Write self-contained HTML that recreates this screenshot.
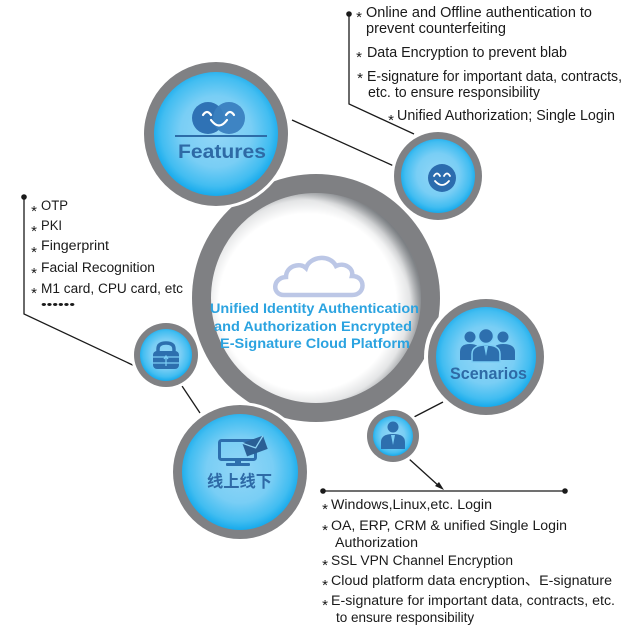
<!DOCTYPE html>
<html><head><meta charset="utf-8"><style>
html,body{margin:0;padding:0;background:#fff;}
svg{display:block;}
.t{font-family:"Liberation Sans","Noto Sans CJK SC",sans-serif;fill:#1a1a1a;}
.st{font-family:"Liberation Sans",sans-serif;fill:#1a1a1a;font-size:15px;}
</style></head><body>
<svg width="625" height="625" viewBox="0 0 625 625" xmlns="http://www.w3.org/2000/svg">
<defs>
<radialGradient id="blue" cx="50%" cy="48%" r="52%">
<stop offset="0" stop-color="#93d6f6"/>
<stop offset="0.55" stop-color="#79cef5"/>
<stop offset="0.85" stop-color="#42bdf1"/>
<stop offset="1" stop-color="#16aaec"/>
</radialGradient>
<radialGradient id="white" cx="46%" cy="52%" r="54%">
<stop offset="0" stop-color="#ffffff"/>
<stop offset="0.78" stop-color="#ffffff"/>
<stop offset="0.9" stop-color="#e4e5e6"/>
<stop offset="1" stop-color="#9a9da0"/>
</radialGradient>
<radialGradient id="dark" cx="35%" cy="65%" r="80%">
<stop offset="0" stop-color="#3a3f45" stop-opacity="0"/>
<stop offset="0.72" stop-color="#3a3f45" stop-opacity="0"/>
<stop offset="0.95" stop-color="#3a3f45" stop-opacity="0.75"/>
</radialGradient>
<clipPath id="inner"><circle cx="316" cy="298" r="105"/></clipPath>
</defs>

<!-- connector lines -->
<g stroke="#1a1a1a" stroke-width="1.3" fill="none">
<polyline points="349,14 349,104 414,134"/>
<line x1="292" y1="120" x2="396" y2="167"/>
<polyline points="24,197 24,314 139,368"/>
<line x1="182" y1="386" x2="200" y2="413"/>
<line x1="443" y1="402" x2="414" y2="417"/>
<line x1="408" y1="458" x2="440" y2="487"/>
<line x1="323" y1="491" x2="565" y2="491"/>
</g>
<polygon points="444,490 435,486 439,482" fill="#1a1a1a"/>
<circle cx="349" cy="14" r="2.8" fill="#1a1a1a"/>
<circle cx="24" cy="197" r="2.8" fill="#1a1a1a"/>
<circle cx="323" cy="491" r="2.8" fill="#1a1a1a"/>
<circle cx="565" cy="491" r="2.8" fill="#1a1a1a"/>

<!-- big central circle -->
<circle cx="316" cy="298" r="124" fill="#7f8083"/>
<circle cx="316" cy="298" r="105" fill="url(#white)"/>
<rect x="200" y="180" width="232" height="232" fill="url(#dark)" clip-path="url(#inner)"/>
<!-- cloud -->
<path d="M284,295 C272,295 272,278 286,277 C286,266 300,262 306,268 C310,256 330,254 336,266 C344,262 354,268 352,276 C366,276 366,295 352,295 Z" fill="none" stroke="#bcc7e6" stroke-width="4.5"/>
<g font-family="Liberation Sans, sans-serif" font-weight="bold" font-size="14" fill="#2ba3e0">
<text x="210" y="313" textLength="209" lengthAdjust="spacingAndGlyphs">Unified Identity Authentication</text>
<text x="214" y="331" textLength="198" lengthAdjust="spacingAndGlyphs">and Authorization Encrypted</text>
<text x="220" y="348" textLength="190" lengthAdjust="spacingAndGlyphs">E-Signature Cloud Platform</text>
</g>

<!-- Features circle -->
<circle cx="216" cy="134" r="75" fill="#fff"/>
<circle cx="216" cy="134" r="72" fill="#808184"/>
<circle cx="216" cy="134" r="62" fill="url(#blue)"/>
<circle cx="208" cy="118" r="16" fill="#2f72b5"/>
<circle cx="229" cy="118" r="16" fill="#3a7fc0" opacity="0.95"/>
<g stroke="#fff" stroke-width="2.2" fill="none" stroke-linecap="round">
<path d="M203,115 Q207,109 211,115"/>
<path d="M226,115 Q230,109 234,115"/>
<path d="M211,120 Q219,131 227,120"/>
</g>
<line x1="175" y1="136" x2="267" y2="136" stroke="#2d6ca8" stroke-width="2"/>
<text x="178" y="158" font-family="Liberation Sans, sans-serif" font-weight="bold" font-size="19" fill="#2e6aa6" textLength="88" lengthAdjust="spacingAndGlyphs">Features</text>

<!-- small smiley circle -->
<circle cx="438" cy="176" r="47" fill="#fff"/>
<circle cx="438" cy="176" r="44" fill="#808184"/>
<circle cx="438" cy="176" r="37" fill="url(#blue)"/>
<circle cx="442" cy="178" r="14" fill="#2b6cae"/>
<g stroke="#fff" stroke-width="1.8" fill="none" stroke-linecap="round">
<path d="M434,176 Q437,171 440,176"/>
<path d="M444,176 Q447,171 450,176"/>
<path d="M435,181 Q442,189 449,181"/>
</g>

<!-- Scenarios circle -->
<circle cx="486" cy="357" r="62" fill="#fff"/>
<circle cx="486" cy="357" r="58" fill="#808184"/>
<circle cx="486" cy="357" r="50" fill="url(#blue)"/>
<g fill="#2d6fae">
<circle cx="470" cy="337" r="5.5"/>
<circle cx="503" cy="337" r="5.5"/>
<path d="M460,360 L460,352 Q460,344 470,344 Q480,344 480,352 L480,360 Z"/>
<path d="M493,360 L493,352 Q493,344 503,344 Q515,344 515,352 L515,360 Z"/>
<circle cx="486" cy="336" r="7.5" stroke="#7bcef5" stroke-width="1.5"/>
<path d="M472,362 L472,354 Q472,345 486,345 Q500,345 500,354 L500,362 Z" stroke="#7bcef5" stroke-width="1.5"/>
</g>
<path d="M484,346 L486,356 L488,346 Z" fill="#7bcef5"/>
<text x="450" y="379" font-family="Liberation Sans, sans-serif" font-weight="bold" font-size="16.5" fill="#2e6aa6" textLength="77" lengthAdjust="spacingAndGlyphs">Scenarios</text>

<!-- small person circle -->
<circle cx="393" cy="436" r="29" fill="#fff"/>
<circle cx="393" cy="436" r="26" fill="#808184"/>
<circle cx="393" cy="436" r="20" fill="url(#blue)"/>
<g fill="#2d6fae">
<circle cx="393" cy="427" r="5.5"/>
<path d="M381,449 L381,442 Q381,434 393,434 Q405,434 405,442 L405,449 Z"/>
</g>
<path d="M391,435 L393,445 L395,435 Z" fill="#7bcef5"/>

<!-- lock circle -->
<circle cx="166" cy="355" r="35" fill="#fff"/>
<circle cx="166" cy="355" r="32" fill="#808184"/>
<circle cx="166" cy="355" r="26" fill="url(#blue)"/>
<path d="M158,352 L158,349 Q158,343 166,343 Q174,343 174,349 L174,352" fill="none" stroke="#2d6fae" stroke-width="3.5"/>
<rect x="153" y="351" width="26" height="18" rx="4" fill="#2d6fae"/>
<g stroke="#7bcef5" stroke-width="1.2">
<line x1="153" y1="357" x2="179" y2="357"/>
<line x1="153" y1="363" x2="179" y2="363"/>
</g>
<path d="M166,356 L166,366 M164,359 L166,356 L168,359" stroke="#7bcef5" stroke-width="1.2" fill="none"/>

<!-- 线上线下 circle -->
<circle cx="240" cy="472" r="70" fill="#fff"/>
<circle cx="240" cy="472" r="67" fill="#808184"/>
<circle cx="240" cy="472" r="58" fill="url(#blue)"/>
<rect x="219.5" y="440.5" width="36" height="19" rx="2" fill="none" stroke="#2d6fae" stroke-width="3"/>
<rect x="235" y="460" width="6" height="3" fill="#2d6fae"/>
<rect x="226" y="463" width="24" height="3" rx="1" fill="#2d6fae"/>
<g transform="rotate(-20 255 446)">
<rect x="244" y="439" width="22" height="14" fill="#2a5f95"/>
<path d="M244,439 L255,448 L266,439" fill="none" stroke="#8fd4f5" stroke-width="1.3"/>
</g>
<text x="207" y="487" font-family="Liberation Sans, 'Noto Sans CJK SC', sans-serif" font-weight="bold" font-size="16.3" fill="#2e6aa6" textLength="65" lengthAdjust="spacingAndGlyphs">线上线下</text>

<!-- top-right list -->
<g class="t" font-size="15">
<text x="366" y="17" textLength="226" lengthAdjust="spacingAndGlyphs">Online and Offline authentication to</text>
<text x="366" y="33" textLength="140" lengthAdjust="spacingAndGlyphs">prevent counterfeiting</text>
<text x="367" y="57" textLength="200" lengthAdjust="spacingAndGlyphs">Data Encryption to prevent blab</text>
<text x="367" y="81" textLength="255" lengthAdjust="spacingAndGlyphs">E-signature for important data, contracts,</text>
<text x="368" y="97" textLength="172" lengthAdjust="spacingAndGlyphs">etc. to ensure responsibility</text>
<text x="397" y="120" textLength="218" lengthAdjust="spacingAndGlyphs">Unified Authorization; Single Login</text>
</g>
<g class="st" text-anchor="middle">
<text x="359" y="22">*</text>
<text x="359" y="62">*</text>
<text x="360" y="83">*</text>
<text x="391" y="125">*</text>
</g>

<!-- left list -->
<g class="t" font-size="13.5">
<text x="41" y="210" textLength="27" lengthAdjust="spacingAndGlyphs">OTP</text>
<text x="41" y="230" textLength="21" lengthAdjust="spacingAndGlyphs">PKI</text>
<text x="41" y="250" textLength="68" lengthAdjust="spacingAndGlyphs">Fingerprint</text>
<text x="41" y="272" textLength="114" lengthAdjust="spacingAndGlyphs">Facial Recognition</text>
<text x="41" y="293" textLength="142" lengthAdjust="spacingAndGlyphs">M1 card, CPU card, etc</text>
<text x="41" y="308" textLength="34" lengthAdjust="spacingAndGlyphs" font-size="11">••••••</text>
</g>
<g class="st" text-anchor="middle">
<text x="34" y="216">*</text>
<text x="34" y="236">*</text>
<text x="34" y="257">*</text>
<text x="34" y="278">*</text>
<text x="34" y="298">*</text>
</g>

<!-- bottom list -->
<g class="t" font-size="13.5">
<text x="331" y="509" textLength="161" lengthAdjust="spacingAndGlyphs">Windows,Linux,etc. Login</text>
<text x="331" y="530" textLength="236" lengthAdjust="spacingAndGlyphs">OA, ERP, CRM &amp; unified Single Login</text>
<text x="335" y="547" textLength="83" lengthAdjust="spacingAndGlyphs">Authorization</text>
<text x="331" y="565" textLength="182" lengthAdjust="spacingAndGlyphs">SSL VPN Channel Encryption</text>
<text x="331" y="585" textLength="281" lengthAdjust="spacingAndGlyphs">Cloud platform data encryption、E-signature</text>
<text x="331" y="605" textLength="284" lengthAdjust="spacingAndGlyphs">E-signature for important data, contracts, etc.</text>
<text x="336" y="622" font-size="13.5">to ensure responsibility</text>
</g>
<g class="st" text-anchor="middle">
<text x="325" y="514">*</text>
<text x="325" y="535">*</text>
<text x="325" y="570">*</text>
<text x="325" y="590">*</text>
<text x="325" y="610">*</text>
</g>
</svg>
</body></html>
